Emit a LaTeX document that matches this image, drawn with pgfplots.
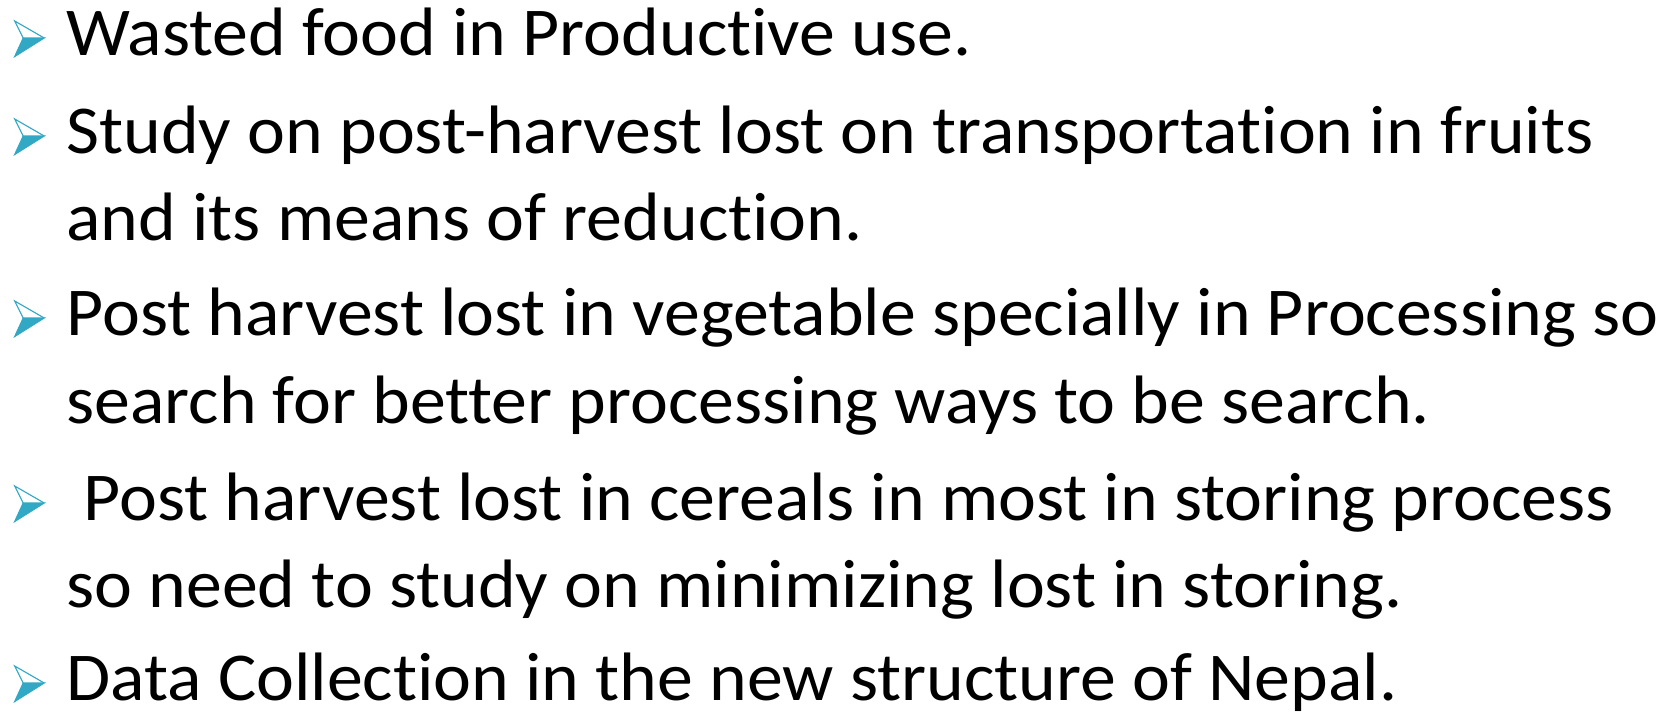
\documentclass[border=0pt]{standalone}
\usepackage{fontspec}
\setmainfont{Carlito}[FakeStretch=1.048,Ligatures=NoCommon]
\usepackage{pgfplots}
\pgfplotsset{compat=1.18}
\definecolor{bul}{RGB}{49,168,196}
\newcommand{\bt}{\fontsize{27.4pt}{32pt}\selectfont}
\pgfdeclareplotmark{arrowbullet}{%
  \pgfpathmoveto{\pgfpoint{3.4pt}{0pt}}%
  \pgfpathlineto{\pgfpoint{11.8pt}{0pt}}%
  \pgfpathlineto{\pgfpoint{0pt}{-7.4pt}}%
  \pgfpathclose
  \pgfusepath{fill,stroke}%
  \pgfpathmoveto{\pgfpoint{3.4pt}{0pt}}%
  \pgfpathlineto{\pgfpoint{0pt}{6.8pt}}%
  \pgfpathlineto{\pgfpoint{11.8pt}{0pt}}%
  \pgfusepath{stroke}%
}
\begin{document}
\begin{tikzpicture}
\fill[white] (0,0) rectangle (670.8pt,286pt);
\useasboundingbox (0,0) rectangle (670.8pt,286pt);
\begin{axis}[at={(0,0)},anchor=south west,scale only axis,
  width=670.8pt,height=286pt,xmin=0,xmax=1677,ymin=0,ymax=715,
  y dir=reverse,hide axis,clip=false]
% bullets
\addplot[only marks,mark=arrowbullet,
  mark options={fill=bul,draw=bul,line width=0.45pt,line join=miter}]
  coordinates {(14.7,38) (14.7,136) (14.7,318) (14.7,503) (14.7,683)};
% text lines
\node[anchor=base west,inner sep=0pt] at (axis cs:66,55) {\bt Wasted food in Productive use.};
\node[anchor=base west,inner sep=0pt] at (axis cs:66,153) {\bt Study on post-harvest lost on transportation in fruits};
\node[anchor=base west,inner sep=0pt] at (axis cs:66,240) {\bt and its means of reduction.};
\node[anchor=base west,inner sep=0pt] at (axis cs:66,335) {\bt Post harvest lost in vegetable specially in Processing so};
\node[anchor=base west,inner sep=0pt] at (axis cs:66,423) {\bt search for better processing ways to be search.};
\node[anchor=base west,inner sep=0pt] at (axis cs:83,520) {\bt Post harvest lost in cereals in most in storing process};
\node[anchor=base west,inner sep=0pt] at (axis cs:66,607) {\bt so need to study on minimizing lost in storing.};
\node[anchor=base west,inner sep=0pt] at (axis cs:66,700) {\bt Data Collection in the new structure of Nepal.};
\end{axis}
\end{tikzpicture}
\end{document}
